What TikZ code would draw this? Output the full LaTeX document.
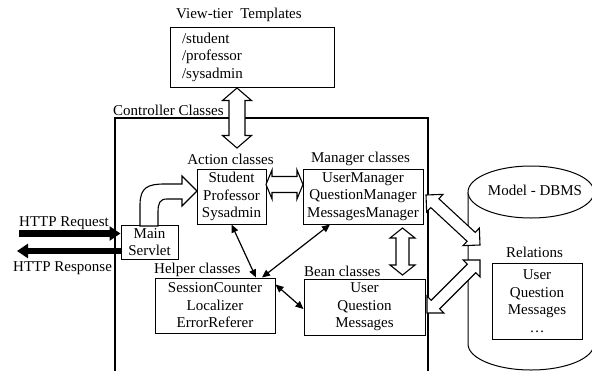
\documentclass[tikz,border=0pt]{standalone}
\usepackage{fontspec}
\setmainfont{Liberation Serif}
\usetikzlibrary{calc,arrows.meta}

% Outlined double-headed block arrow between two named coordinates.
% #1,#2 tips; #3 half shaft width; #4 half head width; #5 head length
\newcommand\hollowpair[5]{%
  \path ($(#1)!#5!(#2)$) coordinate (hA) ($(#2)!#5!(#1)$) coordinate (hB);
  \draw[hollow] (#1) -- ($(hA)!#4!90:(#2)$) -- ($(hA)!#3!90:(#2)$)
    -- ($(hB)!#3!-90:(#1)$) -- ($(hB)!#4!-90:(#1)$) -- (#2)
    -- ($(hB)!#4!90:(#1)$) -- ($(hB)!#3!90:(#1)$)
    -- ($(hA)!#3!-90:(#2)$) -- ($(hA)!#4!-90:(#2)$) -- cycle;}

\begin{document}
\begin{tikzpicture}[x=1pt,y=-1pt,
  every node/.style={font=\fontsize{15pt}{17.5pt}\selectfont},
  box/.style={draw, line width=1pt, inner sep=0pt, align=center, fill=white},
  lbl/.style={inner sep=0pt},
  hollow/.style={draw, fill=white, line width=1.1pt, line join=miter},
  frame/.style={line width=2pt},
  thin/.style={{Triangle[length=8pt,width=7pt]}-{Triangle[length=8pt,width=7pt]}, line width=1.2pt},
  bigarrow/.style={-{Triangle[length=11pt,width=14pt]}, line width=6.5pt}]
\useasboundingbox (0,0) rectangle (592,370);
\clip (0,0) rectangle (592,370);

% controller frame (open at the bottom)
\draw[frame] (115,380) -- (115,118) -- (428,118) -- (428,380);
\node[lbl, anchor=west] (ctrllbl) at (113,110) {Controller Classes};

% database cylinder
\draw[line width=1pt] (468,192) -- (468,344)
  arc[start angle=180, end angle=360, x radius=63pt, y radius=26pt] -- (594,192);
\draw[line width=1pt, fill=white] (531,192) ellipse[x radius=63pt, y radius=26pt];
\node[lbl] (dbms) at (535,190) {Model - DBMS};

% view templates
\node[lbl, anchor=west] (viewlbl) at (176,15) {View-tier\ \ Templates};
\node[box, minimum width=164pt, minimum height=60pt, text width=140pt,
      inner xsep=12pt, align=left] (view) at (252,57)
      {/student\\/professor\\/sysadmin};

% controller components
\node[lbl] (actionlbl) at (230.5,159) {Action classes};
\node[box, minimum width=69pt, minimum height=55pt] (action) at (231.5,196.5)
      {Student\\Professor\\Sysadmin};
\node[lbl] (managerlbl) at (360.5,159) {Manager classes};
\node[box, minimum width=120pt, minimum height=55pt] (manager) at (363,196.5)
      {UserManager\\QuestionManager\\MessagesManager};
\node[box, minimum width=57pt, minimum height=34pt] (servlet) at (149.5,242)
      {Main\\Servlet};
\node[lbl, anchor=west] (helperlbl) at (154,270) {Helper classes};
\node[box, minimum width=120pt, minimum height=55pt] (helper) at (215,305.5)
      {SessionCounter\\Localizer\\ErrorReferer};
\node[lbl, anchor=west] (beanlbl) at (304,271) {Bean classes};
\node[box, minimum width=121pt, minimum height=56pt] (bean) at (364.5,307)
      {User\\Question\\Messages};

% relations inside the database
\node[lbl] (rellbl) at (534.5,252) {Relations};
\node[box, minimum width=90pt, minimum height=76pt] (rel) at (537,301)
      {User\\Question\\Messages\\\dots};

% HTTP traffic
\node[lbl, anchor=west] (reqlbl) at (19,223) {HTTP Request};
\node[lbl, anchor=west] (resplbl) at (13,268) {HTTP Response};
\coordinate (reqin) at (19,233.5);
\coordinate (respout) at (17,251);
\draw[bigarrow] (reqin) -- ([yshift=8.5pt]servlet.west);
\draw[bigarrow] ([yshift=-9pt]servlet.west) -- (respout);

% servlet dispatches to the actions
\draw[hollow] (140,226) -- (140,205) .. controls (140,187) and (148,184) .. (165,184)
  -- (182,184) -- (182,176) -- (197,191) -- (182,206) -- (182,199) -- (167,199)
  .. controls (160,199) and (158,203) .. (158,212) -- (158,226) -- cycle;

% block arrows
\coordinate (vt1) at (237,88);   \coordinate (vt2) at (237,148);
\coordinate (am1) at (266,184.5); \coordinate (am2) at (303,184.5);
\coordinate (mb1) at (402.5,228); \coordinate (mb2) at (402.5,275);
\coordinate (md1) at (426,195);  \coordinate (md2) at (480,245);
\coordinate (bd1) at (427,313);  \coordinate (bd2) at (480,260);
\hollowpair{vt1}{vt2}{8pt}{14.5pt}{12.5pt}
\hollowpair{am1}{am2}{8pt}{14.5pt}{6pt}
\hollowpair{mb1}{mb2}{6.5pt}{12.5pt}{10pt}
\hollowpair{md1}{md2}{6pt}{12pt}{12pt}
\hollowpair{bd1}{bd2}{6pt}{12pt}{12pt}

% thin associations
\draw[thin] (action.south) -- ([xshift=41pt]helper.north);
\draw[thin] ([xshift=-33pt]manager.south) -- ([xshift=47pt]helper.north);
\draw[thin] ([yshift=-7pt]helper.north east) -- ([yshift=-2pt]bean.west);
\end{tikzpicture}
\end{document}
